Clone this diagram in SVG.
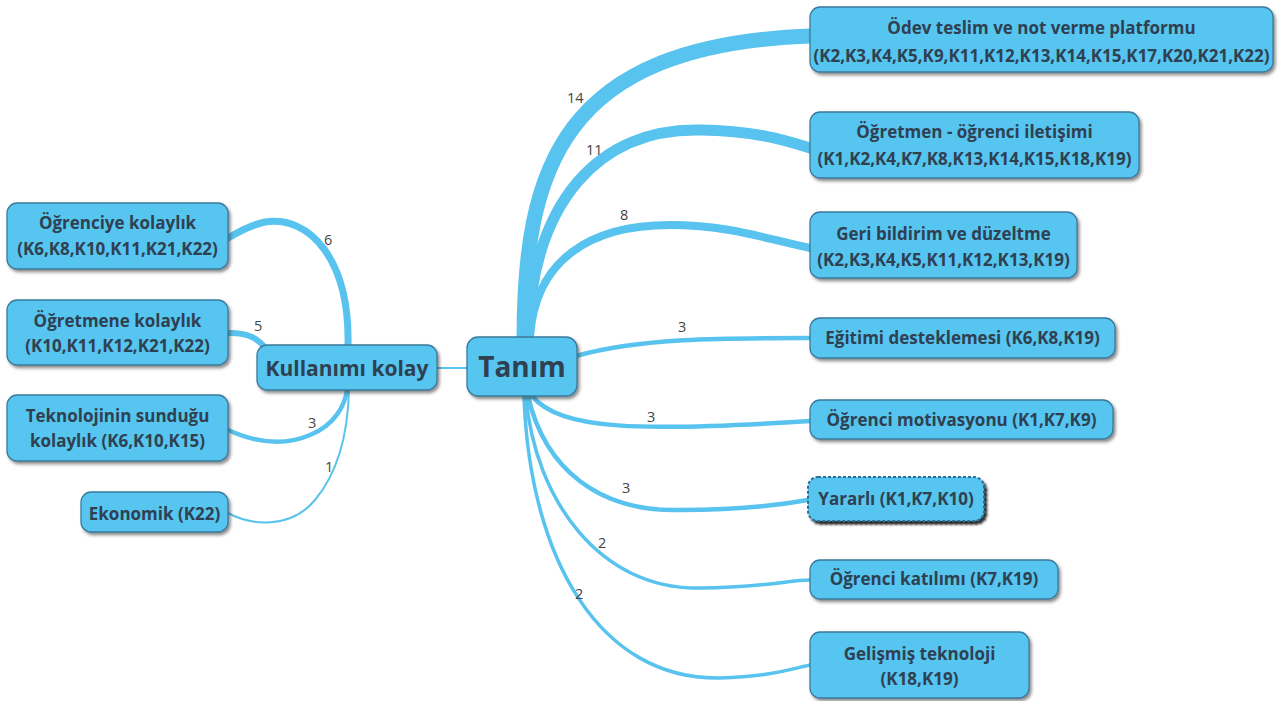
<svg xmlns="http://www.w3.org/2000/svg" width="1282" height="701" viewBox="0 0 1282 701">
<defs>
<filter id="sh" x="-10%" y="-20%" width="120%" height="150%">
<feDropShadow dx="2" dy="2.5" stdDeviation="1.5" flood-color="#333" flood-opacity="0.55"/>
</filter>
<filter id="shd" x="-10%" y="-20%" width="120%" height="150%">
<feDropShadow dx="2.5" dy="3" stdDeviation="1" flood-color="#000" flood-opacity="0.85"/>
</filter>
</defs>
<style>
.box{fill:#56c5f0;stroke:#3a7a9c;stroke-width:1.3;filter:url(#sh)}
.dash{fill:#56c5f0;stroke:#2e6d92;stroke-width:2;stroke-dasharray:3 2;filter:url(#shd)}
.t{font-family:"Open Sans","Noto Sans",sans-serif;font-weight:bold;font-size:17px;fill:#2f4050;text-anchor:middle}
.c{fill:none;stroke:#57c3ee;stroke-linecap:round}
.lb{font-family:"Open Sans","Noto Sans",sans-serif;font-size:14.5px;fill:#444444}
</style>
<rect width="1282" height="701" fill="#ffffff"/>
<g id="connectors">
<path class="c" stroke-width="15" d="M 524 340 C 524 170, 560 45, 810 36"/>
<path class="c" stroke-width="11" d="M 528 337 C 532 200, 600 128, 700 130 C 760 131, 790 142, 810 148"/>
<path class="c" stroke-width="8" d="M 530 337 C 535 260, 590 225, 670 225 C 730 225, 770 240, 810 248"/>
<path class="c" stroke-width="4.5" d="M 576 356 C 640 338, 720 338, 810 338"/>
<path class="c" stroke-width="4.5" d="M 532 396 C 560 430, 640 432, 810 421"/>
<path class="c" stroke-width="4.5" d="M 528 396 C 545 470, 600 512, 680 510 C 740 510, 780 505, 808 500"/>
<path class="c" stroke-width="3.5" d="M 526 397 C 535 500, 600 590, 700 588 C 760 588, 790 580, 810 580"/>
<path class="c" stroke-width="3.5" d="M 524 397 C 530 560, 600 680, 720 678 C 770 677, 795 668, 810 665"/>
<path class="c" stroke-width="2" d="M 437 368 L 468 368"/>
<path class="c" stroke-width="7" d="M 348 346 C 350 260, 310 215, 265 222 C 250 225, 238 232, 228 238"/>
<path class="c" stroke-width="6" d="M 228 333 C 245 332, 258 338, 265 348"/>
<path class="c" stroke-width="4.5" d="M 228 430 C 250 440, 280 448, 310 435 C 335 425, 345 405, 347 390"/>
<path class="c" stroke-width="2" d="M 228 513 C 250 525, 290 530, 315 500 C 340 470, 348 430, 349 390"/>
<text class="lb" x="567" y="103">14</text>
<text class="lb" x="586" y="155">11</text>
<text class="lb" x="620" y="220">8</text>
<text class="lb" x="678" y="332">3</text>
<text class="lb" x="647" y="422">3</text>
<text class="lb" x="622" y="493">3</text>
<text class="lb" x="598" y="548">2</text>
<text class="lb" x="575" y="599">2</text>
<text class="lb" x="324" y="245">6</text>
<text class="lb" x="254" y="331">5</text>
<text class="lb" x="308" y="428">3</text>
<text class="lb" x="325" y="472">1</text>
</g>
<g id="tanim">
<rect class="box" x="467" y="337" width="110" height="59" rx="11"/>
<text class="t" x="522" y="377" style="font-size:28px">Tanım</text>
</g>
<g id="kullanimi-kolay">
<rect class="box" x="257" y="345" width="180" height="45" rx="10"/>
<text class="t" x="347" y="376" style="font-size:21px">Kullanımı kolay</text>
</g>
<g id="odev">
<rect class="box" x="810" y="7" width="463" height="65" rx="10"/>
<text class="t" x="1041.5" y="34">Ödev teslim ve not verme platformu</text>
<text class="t" x="1041.5" y="62">(K2,K3,K4,K5,K9,K11,K12,K13,K14,K15,K17,K20,K21,K22)</text>
</g>
<g id="iletisim">
<rect class="box" x="810" y="112" width="329" height="66" rx="10"/>
<text class="t" x="974.5" y="138">Öğretmen - öğrenci iletişimi</text>
<text class="t" x="974.5" y="165">(K1,K2,K4,K7,K8,K13,K14,K15,K18,K19)</text>
</g>
<g id="geri-bildirim">
<rect class="box" x="810" y="212" width="267" height="66" rx="10"/>
<text class="t" x="943.5" y="240">Geri bildirim ve düzeltme</text>
<text class="t" x="943.5" y="266">(K2,K3,K4,K5,K11,K12,K13,K19)</text>
</g>
<g id="egitimi">
<rect class="box" x="810" y="318" width="305" height="40" rx="10"/>
<text class="t" x="962.5" y="344">Eğitimi desteklemesi (K6,K8,K19)</text>
</g>
<g id="motivasyon">
<rect class="box" x="810" y="400" width="303" height="39" rx="10"/>
<text class="t" x="961.5" y="426">Öğrenci motivasyonu (K1,K7,K9)</text>
</g>
<g id="yararli">
<rect class="dash" x="808" y="477" width="176" height="44" rx="10"/>
<text class="t" x="896" y="505">Yararlı (K1,K7,K10)</text>
</g>
<g id="katilim">
<rect class="box" x="810" y="560" width="248" height="39" rx="10"/>
<text class="t" x="934" y="585">Öğrenci katılımı (K7,K19)</text>
</g>
<g id="gelismis">
<rect class="box" x="810" y="632" width="219" height="66" rx="10"/>
<text class="t" x="919.5" y="660">Gelişmiş teknoloji</text>
<text class="t" x="919.5" y="685">(K18,K19)</text>
</g>
<g id="ogrenciye">
<rect class="box" x="7" y="203" width="221" height="66" rx="10"/>
<text class="t" x="117.5" y="229">Öğrenciye kolaylık</text>
<text class="t" x="117.5" y="255">(K6,K8,K10,K11,K21,K22)</text>
</g>
<g id="ogretmene">
<rect class="box" x="7" y="300" width="221" height="65" rx="10"/>
<text class="t" x="117.5" y="327">Öğretmene kolaylık</text>
<text class="t" x="117.5" y="352">(K10,K11,K12,K21,K22)</text>
</g>
<g id="teknoloji">
<rect class="box" x="7" y="395" width="221" height="66" rx="10"/>
<text class="t" x="117.5" y="422">Teknolojinin sunduğu</text>
<text class="t" x="117.5" y="447">kolaylık (K6,K10,K15)</text>
</g>
<g id="ekonomik">
<rect class="box" x="81" y="492" width="147" height="40" rx="10"/>
<text class="t" x="154.5" y="520">Ekonomik (K22)</text>
</g>
</svg>
